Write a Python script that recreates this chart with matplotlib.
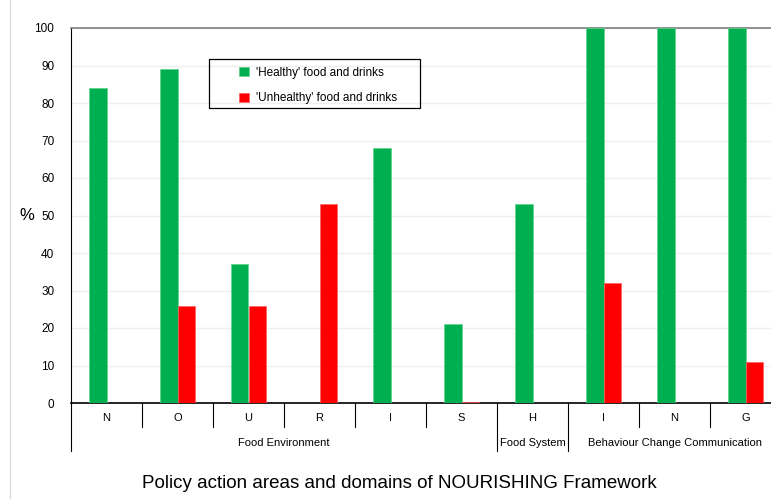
import numpy as np
import matplotlib
matplotlib.use("Agg")
import matplotlib.pyplot as plt
import matplotlib.transforms as mtransforms
from matplotlib.patches import Rectangle
from matplotlib.lines import Line2D

plt.rcParams['font.family'] = ['Liberation Sans', 'DejaVu Sans']

# data
areas = ['N', 'O', 'U', 'R', 'I', 'S', 'H', 'I', 'N', 'G']
healthy = [84, 89, 37, 0, 68, 21, 53, 100, 100, 100]
unhealthy = [0, 26, 26, 53, 0, 0.3, 0, 32, 0, 11]
domains = ['Food Environment', 'Food System', 'Behaviour Change Communication']
domain_spans = [(0, 6), (6, 7), (7, 10)]  # [start, end) index of areas
series_names = ["'Healthy' food and drinks", "'Unhealthy' food and drinks"]

green = '#00b050'
red = '#ff0000'

fig = plt.figure(figsize=(7.71, 4.99), dpi=100)
ax = fig.add_axes([71/771, 96/499, 710/771, 375/499])

x = np.arange(len(areas))
w = 0.24
b1 = ax.bar(x - w/2, healthy, w, color=green, edgecolor='#5fd08a', linewidth=0.5,
            label=series_names[0], zorder=3)
b2 = ax.bar(x + w/2, unhealthy, w, color=red, edgecolor='#ff6060', linewidth=0.5,
            label=series_names[1], zorder=3)

ax.set_xlim(-0.5, len(areas) - 0.5)
ax.set_ylim(0, 100)
ax.set_yticks(np.arange(0, 101, 10))
ax.tick_params(axis='y', length=0, pad=12, labelsize=8.5)
ax.set_xticks([])
ax.grid(axis='y', color='#efefef', linewidth=1, zorder=0)

ax.spines['top'].set_color('#7f7f7f')
ax.spines['top'].set_linewidth(1.2)
ax.spines['right'].set_visible(False)
ax.spines['left'].set_color('black')
ax.spines['bottom'].set_color('black')
ax.spines['bottom'].set_linewidth(1.2)

ax.text(-0.062, 0.5, '%', transform=ax.transAxes, fontsize=12,
        ha='center', va='center')

# multi-level category axis
trans = mtransforms.blended_transform_factory(ax.transData, ax.transAxes)
long_seps = {s for s, e in domain_spans} | {len(areas)}
for i in range(len(areas) + 1):
    y_end = -0.128 if i in long_seps else -0.064
    ax.plot([i - 0.5, i - 0.5], [0, y_end], color='black', lw=0.8,
            transform=trans, clip_on=False)
for i, a in enumerate(areas):
    ax.text(i, -0.04, a, transform=trans, ha='center', va='center', fontsize=8)
for name, (s, e) in zip(domains, domain_spans):
    ax.text((s + e - 1) / 2, -0.107, name, transform=trans, ha='center',
            va='center', fontsize=8)

# legend with square box
leg = ax.legend(loc='upper left', bbox_to_anchor=(0.222, 0.925), frameon=False,
                fontsize=8.5, handlelength=0.8, handleheight=0.8,
                labelspacing=1.15, handletextpad=0.6)
ax.add_patch(Rectangle((0.194, 0.787), 0.298, 0.131, transform=ax.transAxes,
                       fill=False, edgecolor='black', lw=0.9, zorder=5))

fig.text(399/771, 1 - 483/499, 'Policy action areas and domains of NOURISHING Framework',
         ha='center', va='center', fontsize=13.5)
fig.add_artist(Line2D([10/771, 10/771], [0, 1], color='#dcdcdc', lw=1))

fig.savefig('out.png', dpi=100)
